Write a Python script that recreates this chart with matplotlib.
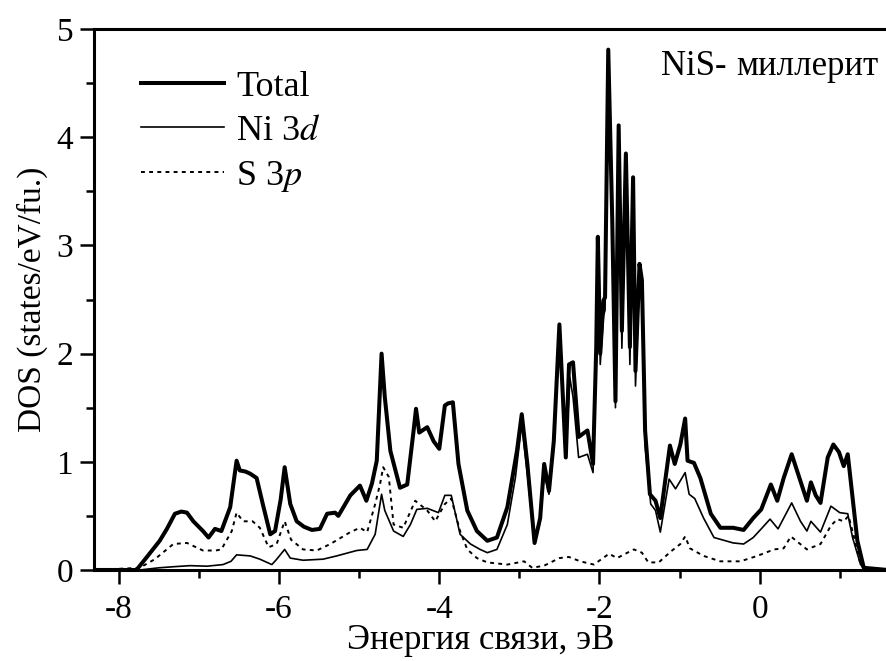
import numpy as np
import matplotlib
matplotlib.use("Agg")
import matplotlib.pyplot as plt
from matplotlib.ticker import MultipleLocator

plt.rcParams['font.family'] = ['Liberation Serif', 'DejaVu Serif']
plt.rcParams['mathtext.fontset'] = 'stix'
plt.rcParams['axes.unicode_minus'] = False

# Total DOS
energy_total = [-8.3, -7.78, -7.65, -7.49, -7.40, -7.30, -7.22, -7.15, -7.07, -6.95,
                -6.88, -6.80, -6.72, -6.61, -6.56, -6.53, -6.49, -6.42, -6.36, -6.28,
                -6.20, -6.11, -6.05, -5.98, -5.93, -5.86, -5.78, -5.69, -5.59, -5.49,
                -5.40, -5.30, -5.26, -5.11, -4.99, -4.91, -4.84, -4.78, -4.72, -4.68,
                -4.61, -4.49, -4.40, -4.32, -4.29, -4.25, -4.15, -4.07, -4.00, -3.93,
                -3.89, -3.83, -3.76, -3.65, -3.53, -3.40, -3.28, -3.15, -3.03, -2.97,
                -2.90, -2.81, -2.74, -2.69, -2.63, -2.57, -2.50, -2.42, -2.38, -2.33,
                -2.26, -2.15, -2.08, -2.04, -2.02, -1.99, -1.95, -1.93, -1.89, -1.84,
                -1.80, -1.76, -1.72, -1.67, -1.62, -1.58, -1.55, -1.50, -1.47, -1.43,
                -1.37, -1.30, -1.24, -1.18, -1.12, -1.06, -0.99, -0.93, -0.90, -0.82,
                -0.74, -0.61, -0.49, -0.33, -0.20, -0.08, 0.02, 0.14, 0.22, 0.30,
                0.40, 0.51, 0.59, 0.64, 0.70, 0.76, 0.85, 0.92, 0.99, 1.05,
                1.10, 1.16, 1.22, 1.30, 1.6]
dos_total = [0.0, 0.0, 0.12, 0.27, 0.38, 0.52, 0.54, 0.53, 0.45, 0.36,
             0.30, 0.38, 0.36, 0.58, 0.85, 1.01, 0.92, 0.91, 0.89, 0.85,
             0.60, 0.33, 0.36, 0.65, 0.95, 0.61, 0.45, 0.40, 0.37, 0.38,
             0.52, 0.53, 0.50, 0.69, 0.78, 0.64, 0.80, 1.01, 2.00, 1.60,
             1.10, 0.76, 0.79, 1.29, 1.49, 1.27, 1.32, 1.19, 1.12, 1.52,
             1.54, 1.55, 0.98, 0.55, 0.36, 0.27, 0.30, 0.58, 1.10, 1.44,
             0.98, 0.25, 0.48, 0.98, 0.73, 1.19, 2.27, 1.04, 1.90, 1.92,
             1.23, 1.29, 0.98, 2.06, 3.08, 2.00, 2.49, 2.52, 4.81, 3.23,
             1.56, 4.11, 2.21, 3.85, 2.06, 3.63, 1.84, 2.83, 2.68, 1.29,
             0.70, 0.64, 0.48, 0.82, 1.15, 0.98, 1.16, 1.40, 1.01, 0.99,
             0.85, 0.52, 0.39, 0.39, 0.37, 0.48, 0.56, 0.79, 0.64, 0.85,
             1.07, 0.82, 0.64, 0.81, 0.69, 0.62, 1.04, 1.16, 1.09, 0.96,
             1.07, 0.67, 0.27, 0.02, 0.0]

# Ni 3d partial DOS
energy_ni = [-8.3, -7.74, -7.5, -7.32, -7.11, -6.90, -6.70, -6.60, -6.53, -6.36,
             -6.24, -6.09, -6.04, -5.93, -5.86, -5.70, -5.45, -5.28, -5.03, -4.90,
             -4.80, -4.72, -4.68, -4.57, -4.45, -4.36, -4.28, -4.15, -4.01, -3.93,
             -3.85, -3.74, -3.61, -3.49, -3.40, -3.28, -3.15, -3.05, -2.97, -2.90,
             -2.81, -2.74, -2.69, -2.63, -2.57, -2.50, -2.42, -2.37, -2.33, -2.26,
             -2.15, -2.08, -2.04, -2.02, -1.99, -1.95, -1.93, -1.89, -1.84, -1.80,
             -1.76, -1.72, -1.67, -1.62, -1.58, -1.55, -1.50, -1.47, -1.43, -1.36,
             -1.30, -1.24, -1.13, -1.05, -0.93, -0.88, -0.81, -0.70, -0.57, -0.33,
             -0.20, -0.08, 0.02, 0.13, 0.23, 0.40, 0.51, 0.59, 0.64, 0.76,
             0.89, 1.00, 1.10, 1.16, 1.26, 1.32, 1.6]
dos_ni = [0.0, 0.0, 0.02, 0.03, 0.04, 0.035, 0.05, 0.08, 0.14, 0.13,
          0.10, 0.05, 0.09, 0.19, 0.11, 0.09, 0.10, 0.13, 0.18, 0.19,
          0.33, 0.70, 0.55, 0.36, 0.31, 0.42, 0.56, 0.57, 0.53, 0.69,
          0.69, 0.33, 0.24, 0.19, 0.16, 0.19, 0.42, 0.85, 1.35, 0.89,
          0.24, 0.45, 0.89, 0.70, 1.16, 2.16, 1.04, 1.78, 1.60, 1.04,
          1.07, 0.90, 1.95, 2.95, 1.90, 2.35, 2.40, 4.65, 3.10, 1.50,
          3.95, 2.05, 3.70, 1.90, 3.50, 1.70, 2.70, 2.55, 1.15, 0.61,
          0.55, 0.35, 0.84, 0.75, 0.90, 0.70, 0.66, 0.48, 0.30, 0.25,
          0.24, 0.30, 0.38, 0.47, 0.38, 0.62, 0.45, 0.36, 0.45, 0.35,
          0.59, 0.53, 0.52, 0.30, 0.05, 0.0, 0.0]

# S 3p partial DOS
energy_s = [-8.3, -7.74, -7.55, -7.32, -7.15, -6.95, -6.79, -6.72, -6.59, -6.53,
            -6.45, -6.33, -6.24, -6.13, -6.03, -5.93, -5.85, -5.70, -5.53, -5.36,
            -5.11, -4.99, -4.90, -4.80, -4.74, -4.70, -4.63, -4.57, -4.45, -4.30,
            -4.15, -4.05, -3.93, -3.85, -3.74, -3.65, -3.53, -3.40, -3.15, -2.94,
            -2.84, -2.69, -2.50, -2.38, -2.24, -2.07, -1.88, -1.78, -1.65, -1.57,
            -1.47, -1.39, -1.26, -1.11, -0.99, -0.93, -0.87, -0.70, -0.49, -0.24,
            -0.03, 0.18, 0.30, 0.39, 0.59, 0.76, 0.89, 0.97, 1.05, 1.11,
            1.18, 1.26, 1.32, 1.6]
dos_s = [0.0, 0.02, 0.10, 0.24, 0.25, 0.18, 0.18, 0.19, 0.36, 0.53,
         0.45, 0.45, 0.39, 0.21, 0.24, 0.45, 0.28, 0.19, 0.18, 0.24,
         0.35, 0.39, 0.35, 0.61, 0.79, 0.95, 0.86, 0.42, 0.39, 0.64,
         0.55, 0.45, 0.61, 0.66, 0.36, 0.19, 0.11, 0.07, 0.05, 0.08,
         0.02, 0.04, 0.11, 0.12, 0.08, 0.05, 0.15, 0.11, 0.16, 0.19,
         0.16, 0.07, 0.07, 0.17, 0.24, 0.31, 0.20, 0.13, 0.08, 0.08,
         0.13, 0.19, 0.20, 0.31, 0.19, 0.24, 0.41, 0.47, 0.45, 0.50,
         0.30, 0.05, 0.0, 0.0]

legend_labels = ['Total', 'Ni 3$d$', 'S 3$p$']

fig = plt.figure(figsize=(8.87, 6.61), dpi=100)
ax = fig.add_axes([0.106, 0.1377, 0.894, 0.8183])

ax.plot(energy_total, dos_total, color='black', lw=2.9, label=legend_labels[0],
        zorder=3, solid_joinstyle='round')
ax.plot(energy_ni, dos_ni, color='black', lw=1.2, label=legend_labels[1], zorder=2)
ax.plot(energy_s, dos_s, color='black', lw=1.4, ls=(0, (2, 2.2)), label=legend_labels[2], zorder=1)

ax.set_xlim(-8.31, 1.59)
ax.set_ylim(0, 5)
ax.xaxis.set_major_locator(MultipleLocator(2))
ax.xaxis.set_minor_locator(MultipleLocator(1))
ax.yaxis.set_major_locator(MultipleLocator(1))
ax.yaxis.set_minor_locator(MultipleLocator(0.5))

for side in ['left', 'bottom', 'top']:
    ax.spines[side].set_linewidth(2.2)
ax.spines['right'].set_visible(False)

ax.tick_params(which='major', direction='out', length=10, width=1.8, labelsize=24)
ax.tick_params(axis='x', which='major', pad=8)
ax.tick_params(axis='y', which='major', pad=5)
ax.tick_params(which='minor', direction='out', length=5.5, width=1.8)
ax.tick_params(top=False, which='both')

ax.set_xlabel('Энергия связи, эВ', fontsize=25, labelpad=0)
ax.xaxis.set_label_coords(0.487, -0.10)
ax.set_ylabel('DOS (states/eV/fu.)', fontsize=24, labelpad=6)

ax.text(0.715, 0.915, 'NiS-', transform=ax.transAxes, fontsize=25, ha='left', va='baseline')
ax.text(0.81, 0.915, 'миллерит', transform=ax.transAxes, fontsize=25, ha='left', va='baseline')

ax.legend(loc='upper left', bbox_to_anchor=(0.041, 0.95), frameon=False, fontsize=26,
          handlelength=2.3, handletextpad=0.33, labelspacing=0.3, borderaxespad=0)

fig.savefig('out.png', dpi=100)
